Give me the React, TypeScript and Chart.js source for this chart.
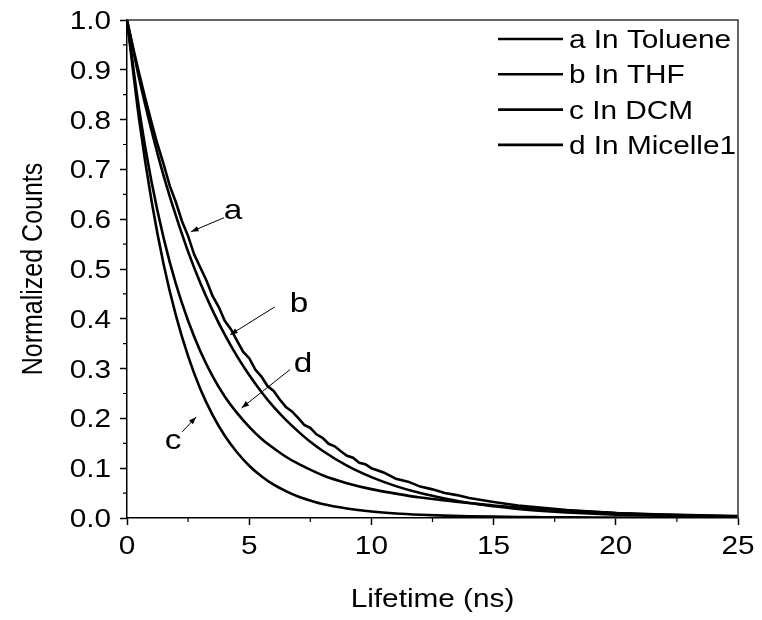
import React, { useEffect, useRef } from "react";
import { Chart, registerables } from "chart.js";

Chart.register(...registerables);

// ---- data ----
// curve a (noisy) on a finer time grid
const timeA = [0, 0.25, 0.5, 0.75, 1, 1.25, 1.5, 1.75, 2, 2.25, 2.5, 2.75, 3, 3.25, 3.5, 3.75, 4, 4.25, 4.5, 4.75, 5, 5.25, 5.5, 5.75, 6, 6.25, 6.5, 6.75, 7, 7.25, 7.5, 7.75, 8, 8.25, 8.5, 8.75, 9, 9.25, 9.5, 9.75, 10, 10.5, 11, 11.5, 12, 12.5, 13, 13.5, 14, 15, 16, 17, 18, 19, 20, 22, 25];
const seriesA = [1, 0.944, 0.892, 0.842, 0.795, 0.75, 0.71, 0.667, 0.634, 0.596, 0.566, 0.529, 0.503, 0.477, 0.446, 0.424, 0.396, 0.379, 0.356, 0.334, 0.321, 0.298, 0.284, 0.265, 0.255, 0.238, 0.223, 0.214, 0.201, 0.187, 0.181, 0.168, 0.161, 0.149, 0.144, 0.134, 0.125, 0.121, 0.111, 0.108, 0.1, 0.0915, 0.079, 0.073, 0.063, 0.0575, 0.05, 0.046, 0.04, 0.032, 0.025, 0.0205, 0.016, 0.013, 0.01, 0.0065, 0.003];

// curves b, c, d on a common grid
const timeNs = [0, 0.5, 1, 1.5, 2, 2.5, 3, 3.5, 4, 4.5, 5, 5.5, 6, 6.5, 7, 7.5, 8, 9, 10, 11, 12, 13, 14, 15, 16, 17, 18, 20, 22, 25];
const seriesB = [1, 0.882, 0.779, 0.687, 0.607, 0.535, 0.472, 0.417, 0.368, 0.325, 0.287, 0.253, 0.223, 0.197, 0.174, 0.153, 0.135, 0.105, 0.082, 0.064, 0.05, 0.039, 0.03, 0.0235, 0.018, 0.014, 0.011, 0.0067, 0.004, 0.002];
const seriesC = [1, 0.799, 0.638, 0.509, 0.407, 0.325, 0.259, 0.207, 0.165, 0.132, 0.105, 0.084, 0.067, 0.054, 0.043, 0.035, 0.028, 0.019, 0.013, 0.009, 0.0065, 0.0048, 0.0036, 0.0027, 0.002, 0.0016, 0.0012, 0.0008, 0.0005, 0.0003];
const seriesD = [1, 0.819, 0.676, 0.562, 0.47, 0.396, 0.335, 0.285, 0.244, 0.211, 0.183, 0.159, 0.14, 0.123, 0.109, 0.097, 0.086, 0.07, 0.058, 0.049, 0.041, 0.035, 0.03, 0.025, 0.021, 0.018, 0.015, 0.01, 0.007, 0.004];

const seriesLabels = ["a In Toluene", "b In THF", "c In DCM", "d In Micelle1"];

const xTickValues = [0, 5, 10, 15, 20, 25];
const yTickValues = [0, 0.1, 0.2, 0.3, 0.4, 0.5, 0.6, 0.7, 0.8, 0.9, 1.0];
const xMinorTicks = [2.5, 7.5, 12.5, 17.5, 22.5];
const yMinorTicks = [0.05, 0.15, 0.25, 0.35, 0.45, 0.55, 0.65, 0.75, 0.85, 0.95];

const xTitle = "Lifetime (ns)";
const yTitle = "Normalized Counts";

// annotation labels with arrows, in data coordinates
const annotationText = ["a", "b", "d", "c"];
const annotationLabelX = [4.34, 7.04, 7.2, 1.89];
const annotationLabelY = [0.617, 0.43, 0.309, 0.155];
const annotationFromX = [3.97, 6.05, 6.67, 2.26];
const annotationFromY = [0.603, 0.424, 0.298, 0.173];
const annotationToX = [2.62, 4.22, 4.69, 2.83];
const annotationToY = [0.575, 0.368, 0.221, 0.203];

const FONT = "'Liberation Sans', Arial, sans-serif";
const SX = 1.19; // horizontal stretch of the lettering in the reference

function drawText(ctx: CanvasRenderingContext2D, text: string, x: number, y: number, align: CanvasTextAlign, size: number) {
  ctx.save();
  ctx.translate(x, y);
  ctx.scale(SX, 1);
  ctx.font = `${size}px ${FONT}`;
  ctx.textAlign = align;
  ctx.textBaseline = "alphabetic";
  ctx.fillStyle = "#000";
  ctx.fillText(text, 0, 0);
  ctx.restore();
}

const extrasPlugin = {
  id: "extras",
  afterDraw(chart: any) {
    const { ctx, chartArea, scales } = chart;
    const xs = scales.x;
    const ys = scales.y;
    ctx.save();
    // top & right frame
    ctx.strokeStyle = "#333";
    ctx.lineWidth = 1.5;
    ctx.beginPath();
    ctx.moveTo(chartArea.left, chartArea.top);
    ctx.lineTo(chartArea.right, chartArea.top);
    ctx.lineTo(chartArea.right, chartArea.bottom);
    ctx.stroke();

    // minor ticks
    ctx.strokeStyle = "#000";
    ctx.lineWidth = 1.2;
    ctx.beginPath();
    for (const v of xMinorTicks) {
      const px = xs.getPixelForValue(v);
      ctx.moveTo(px, chartArea.bottom);
      ctx.lineTo(px, chartArea.bottom + 4);
    }
    for (const v of yMinorTicks) {
      const py = ys.getPixelForValue(v);
      ctx.moveTo(chartArea.left, py);
      ctx.lineTo(chartArea.left - 4, py);
    }
    ctx.stroke();

    // tick labels
    for (const v of xTickValues) {
      drawText(ctx, String(v), xs.getPixelForValue(v), chartArea.bottom + 36, "center", 25);
    }
    for (const v of yTickValues) {
      drawText(ctx, v.toFixed(1), chartArea.left - 16, ys.getPixelForValue(v) + 9, "right", 25);
    }

    // axis titles
    drawText(ctx, xTitle, (chartArea.left + chartArea.right) / 2, chartArea.bottom + 89, "center", 25);
    ctx.save();
    ctx.translate(42, (chartArea.top + chartArea.bottom) / 2);
    ctx.scale(SX, 1);
    ctx.rotate(-Math.PI / 2);
    ctx.font = `25px ${FONT}`;
    ctx.textAlign = "center";
    ctx.textBaseline = "alphabetic";
    ctx.fillStyle = "#000";
    ctx.fillText(yTitle, 0, 0);
    ctx.restore();

    // legend
    seriesLabels.forEach((label, i) => {
      const y = chartArea.top + 19 + i * 35.3;
      ctx.strokeStyle = "#000";
      ctx.lineWidth = 2.6;
      ctx.beginPath();
      ctx.moveTo(chartArea.right - 240, y);
      ctx.lineTo(chartArea.right - 175, y);
      ctx.stroke();
      drawText(ctx, label, chartArea.right - 169, y + 9, "left", 25);
    });

    // annotations
    annotationText.forEach((t, i) => {
      const x0 = xs.getPixelForValue(annotationFromX[i]);
      const y0 = ys.getPixelForValue(annotationFromY[i]);
      const x1 = xs.getPixelForValue(annotationToX[i]);
      const y1 = ys.getPixelForValue(annotationToY[i]);
      ctx.strokeStyle = "#000";
      ctx.fillStyle = "#000";
      ctx.lineWidth = 1;
      ctx.beginPath();
      ctx.moveTo(x0, y0);
      ctx.lineTo(x1, y1);
      ctx.stroke();
      const ang = Math.atan2(y1 - y0, x1 - x0);
      const hl = 8;
      const hw = 0.35;
      ctx.beginPath();
      ctx.moveTo(x1, y1);
      ctx.lineTo(x1 - hl * Math.cos(ang - hw), y1 - hl * Math.sin(ang - hw));
      ctx.lineTo(x1 - hl * Math.cos(ang + hw), y1 - hl * Math.sin(ang + hw));
      ctx.closePath();
      ctx.fill();
      drawText(ctx, t, xs.getPixelForValue(annotationLabelX[i]), ys.getPixelForValue(annotationLabelY[i]) + 8, "center", 28);
    });
    ctx.restore();
  },
};

export default function App() {
  const canvasRef = useRef<HTMLCanvasElement | null>(null);

  useEffect(() => {
    if (!canvasRef.current) return;
    const pts = (ts: number[], vals: number[]) => ts.map((t, i) => ({ x: t, y: vals[i] }));
    const base = {
      borderColor: "#000",
      backgroundColor: "#000",
      borderWidth: 2.6,
      pointRadius: 0,
      fill: false,
    };
    const chart = new Chart(canvasRef.current, {
      type: "line",
      data: {
        datasets: [
          { ...base, label: seriesLabels[0], data: pts(timeA, seriesA), tension: 0 },
          { ...base, label: seriesLabels[1], data: pts(timeNs, seriesB), cubicInterpolationMode: "monotone" as const },
          { ...base, label: seriesLabels[2], data: pts(timeNs, seriesC), cubicInterpolationMode: "monotone" as const },
          { ...base, label: seriesLabels[3], data: pts(timeNs, seriesD), cubicInterpolationMode: "monotone" as const },
        ],
      },
      options: {
        animation: false,
        responsive: false,
        devicePixelRatio: 1,
        layout: { padding: { top: 20, right: 24, left: 0, bottom: 0 } },
        plugins: { legend: { display: false }, tooltip: { enabled: false } },
        scales: {
          x: {
            type: "linear",
            min: 0,
            max: 25,
            ticks: { stepSize: 5, color: "rgba(0,0,0,0)", maxRotation: 0 },
            grid: { drawOnChartArea: false, tickLength: 7, tickColor: "#000", tickWidth: 1.5 },
            border: { color: "#000", width: 1.5 },
            afterFit: (s: any) => { s.height = 102; },
          },
          y: {
            type: "linear",
            min: 0,
            max: 1,
            ticks: { stepSize: 0.1, color: "rgba(0,0,0,0)" },
            grid: { drawOnChartArea: false, tickLength: 7, tickColor: "#000", tickWidth: 1.5 },
            border: { color: "#000", width: 1.5 },
            afterFit: (s: any) => { s.width = 127; },
          },
        },
      },
      plugins: [extrasPlugin],
    });
    return () => chart.destroy();
  }, []);

  return (
    <div style={{ position: "absolute", left: 0, top: 0, width: 762, height: 620, background: "#fff" }}>
      <canvas ref={canvasRef} width={762} height={620} />
    </div>
  );
}
